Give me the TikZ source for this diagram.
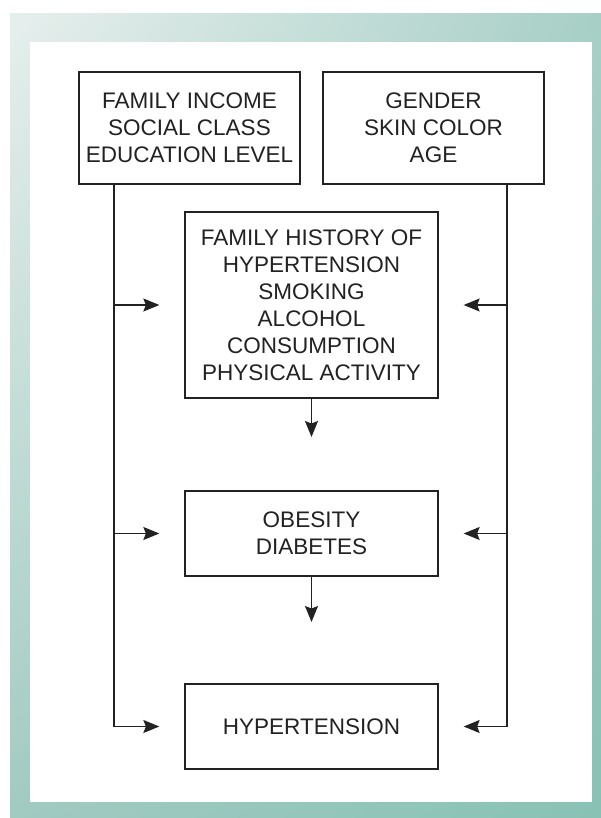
\documentclass[tikz,border=0pt]{standalone}
\usepackage{fontspec}
\setmainfont{Liberation Sans}
\usetikzlibrary{arrows.meta,calc,shadings}
\definecolor{inkc}{HTML}{222222}
\definecolor{tlc}{HTML}{E7EFED}
\definecolor{trc}{HTML}{A7CFC6}
\definecolor{blc}{HTML}{A1CAC1}
\definecolor{brc}{HTML}{88C2B5}
\tikzset{
  boxnode/.style={draw=inkc, line width=1.3pt, text=inkc, align=center,
    inner sep=0pt, font=\fontsize{22.5}{27}\selectfont},
  conn/.style={draw=inkc, line width=1.3pt},
  arr/.style={conn, >={Stealth[length=16pt,width=13pt,inset=2.5pt]}, ->},
}
\begin{document}
\begin{tikzpicture}[x=1pt,y=1pt]
\useasboundingbox (0,0) rectangle (601,-818);
\shade[upper left=tlc, upper right=trc, lower left=blc, lower right=brc]
  (10,-14) rectangle (601,-818);
\fill[white] (30,-42) rectangle (592,-802);

\node[boxnode, minimum width=221pt, minimum height=112pt] (b1) at (189.5,-128)
  {FAMILY INCOME\\SOCIAL CLASS\\EDUCATION LEVEL};
\node[boxnode, minimum width=221pt, minimum height=112pt] (b2) at (433.5,-128)
  {GENDER\\SKIN COLOR\\AGE};
\node[boxnode, minimum width=253pt, minimum height=186pt] (b3) at (311.5,-305)
  {FAMILY HISTORY OF\\HYPERTENSION\\SMOKING\\ALCOHOL\\CONSUMPTION\\PHYSICAL ACTIVITY};
\node[boxnode, minimum width=253pt, minimum height=85pt] (b4) at (311.5,-533.5)
  {OBESITY\\DIABETES};
\node[boxnode, minimum width=253pt, minimum height=85pt] (b5) at (311.5,-726.5)
  {HYPERTENSION};

\coordinate (lx) at (114,0);
\coordinate (rx) at (507,0);
\coordinate (t34) at (311.5,-437);
\coordinate (t45) at (311.5,-622);

% left trunk
\draw[conn] (b1.south -| lx) -- (lx |- b5.west);
\draw[arr] (lx |- b3.west) -- ([xshift=-25pt]b3.west);
\draw[arr] (lx |- b4.west) -- ([xshift=-25pt]b4.west);
\draw[arr] (lx |- b5.west) -- ([xshift=-25pt]b5.west);
% right trunk
\draw[conn] (b2.south -| rx) -- (rx |- b5.east);
\draw[arr] (rx |- b3.east) -- ([xshift=25pt]b3.east);
\draw[arr] (rx |- b4.east) -- ([xshift=25pt]b4.east);
\draw[arr] (rx |- b5.east) -- ([xshift=25pt]b5.east);
% vertical arrows
\draw[arr] (b3.south) -- (t34);
\draw[arr] (b4.south) -- (t45);
\end{tikzpicture}
\end{document}
